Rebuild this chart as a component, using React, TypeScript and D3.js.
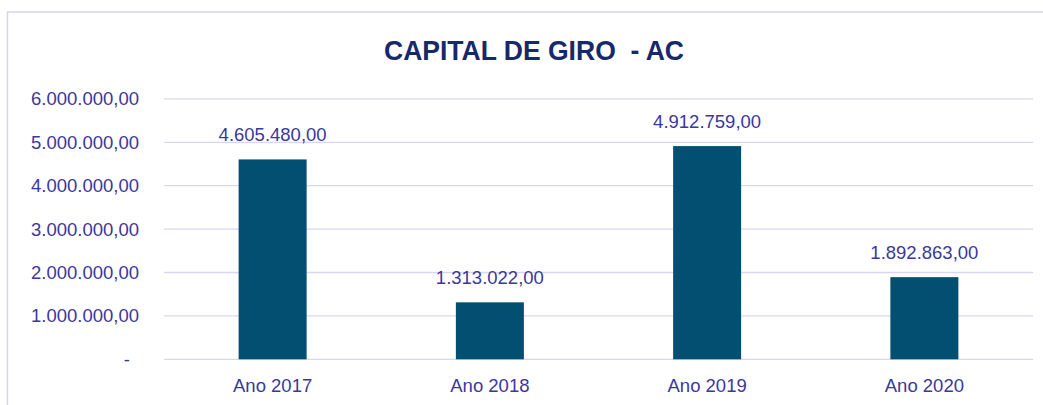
import React from "react";
import * as d3 from "d3";

const categories = ["Ano 2017", "Ano 2018", "Ano 2019", "Ano 2020"];
const values = [4605480, 1313022, 4912759, 1892863];
const yTicks = [0, 1000000, 2000000, 3000000, 4000000, 5000000, 6000000];
const title = "CAPITAL DE GIRO  - AC";

const fmt = (v: number) => {
  if (v === 0) return "-";
  const s = v.toFixed(2);
  const [int, dec] = s.split(".");
  return int.replace(/\B(?=(\d{3})+(?!\d))/g, ".") + "," + dec;
};

export default function App() {
  const W = 1043, H = 405;
  const plotL = 164, plotR = 1033, plotT = 98.9, plotB = 359.3;
  const x = d3.scaleBand<string>().domain(categories).range([plotL, plotR]).paddingInner(0.687).paddingOuter(0.3435);
  const y = d3.scaleLinear().domain([0, 6000000]).range([plotB, plotT]);
  const textColor = "#3b379c";
  const font = "'Liberation Sans', Arial, sans-serif";
  const fs = 18.5;
  return (
    <svg width={W} height={H} style={{ position: "absolute", left: 0, top: 0, background: "#fff" }}>
      <rect x={7.5} y={12} width={W + 20} height={H + 20} fill="#fff" stroke="#d6d3f0" strokeWidth={1.5} />
      <text x={534} y={60} textAnchor="middle" fontFamily={font} fontWeight="bold" fontSize={28}
        fill="#17286b" textLength={300} lengthAdjust="spacingAndGlyphs" style={{ whiteSpace: "pre" }}>{title}</text>
      {yTicks.map((t) => (
        <g key={t}>
          <line x1={plotL} x2={plotR} y1={y(t)} y2={y(t)} stroke="#d9d6f2" strokeWidth={1.3} />
          <text x={t === 0 ? 130 : 139} y={y(t)} dy="0.35em" textAnchor="end" fontFamily={font}
            fontSize={fs} fill={textColor}>{fmt(t)}</text>
        </g>
      ))}
      {categories.map((c, i) => (
        <g key={c}>
          <rect x={x(c)} y={y(values[i])} width={x.bandwidth()} height={plotB - y(values[i])} fill="#034f71" />
          <text x={(x(c) as number) + x.bandwidth() / 2} y={y(values[i]) - 18} textAnchor="middle"
            fontFamily={font} fontSize={fs} fill={textColor}>{fmt(values[i])}</text>
          <text x={(x(c) as number) + x.bandwidth() / 2} y={392} textAnchor="middle"
            fontFamily={font} fontSize={fs} fill={textColor}>{c}</text>
        </g>
      ))}
    </svg>
  );
}
